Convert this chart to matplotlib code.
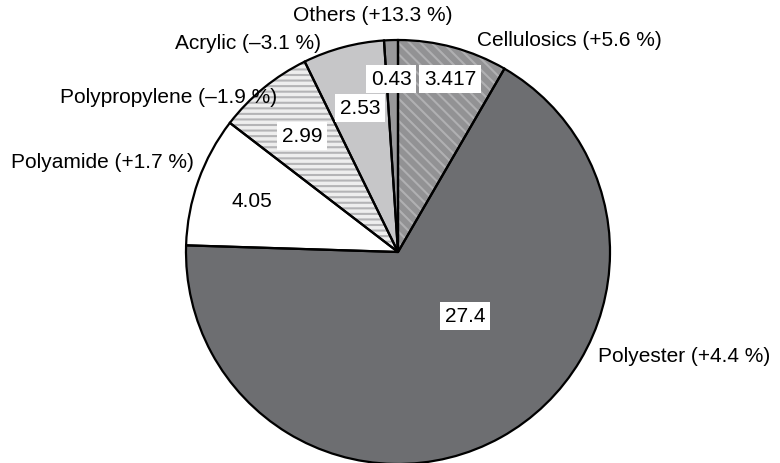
import numpy as np
import matplotlib.pyplot as plt

plt.rcParams['font.family'] = ['Liberation Sans', 'DejaVu Sans']
plt.rcParams['hatch.linewidth'] = 1.5

# clockwise from the top
fibres = ["Cellulosics", "Polyester", "Polyamide", "Polypropylene", "Acrylic", "Others"]
values = [3.417, 27.4, 4.05, 2.99, 2.53, 0.43]
value_text = ["3.417", "27.4", "4.05", "2.99", "2.53", "0.43"]
growth = ["+5.6 %", "+4.4 %", "+1.7 %", "\u20131.9 %", "\u20133.1 %", "+13.3 %"]

face = ["#929294", "#6d6e71", "#ffffff", "#eeeeee", "#c6c6c8", "#98989a"]
hatch = ["\\\\\\", None, None, "---", None, None]
hatch_col = ["#b0b0b2", None, None, "#b4b4b6", None, None]

fig = plt.figure(figsize=(7.8, 4.63), dpi=100)
cx, cy, r = 398, 252, 212
ax = fig.add_axes([(cx - r) / 780, (463 - cy - r) / 463, 2 * r / 780, 2 * r / 463])

kw = dict(startangle=90, counterclock=False, radius=1, center=(0, 0), normalize=True)

# fill
w1, _ = ax.pie(values, colors=face, wedgeprops=dict(linewidth=0), **kw)
# hatches
w2, _ = ax.pie(values, colors=["none"] * 6, wedgeprops=dict(linewidth=0), **kw)
for w, h, hc in zip(w2, hatch, hatch_col):
    if h:
        w.set_hatch(h)
        w.set_edgecolor(hc)
    else:
        w.set_visible(False)
# outlines
w3, _ = ax.pie(values, colors=["none"] * 6,
               wedgeprops=dict(linewidth=1.6, edgecolor="black", facecolor="none"), **kw)
ax.set_xlim(-1, 1)
ax.set_ylim(-1, 1)
ax.axis("off")


def px(x, y):
    return (x - cx) / r, (cy - y) / r


# value boxes (pixel positions of box centres)
value_pos = [(450, 79), (465, 316), (252, 201), (302, 136), (360, 108), (391, 79)]
for t, (x, y) in zip(value_text, value_pos):
    ax.text(*px(x, y), t, ha="center", va="center", fontsize=15,
            bbox=dict(facecolor="white", edgecolor="none", pad=3.5))

# outer labels: (x, y, ha)
label_pos = [(477, 40, "left"), (598, 357, "left"), (194, 162, "right"),
             (277, 97, "right"), (321, 43, "right"), (373, 15, "center")]
for f, g, (x, y, ha) in zip(fibres, growth, label_pos):
    ax.text(*px(x, y), f"{f} ({g})", ha=ha, va="center", fontsize=15, clip_on=False)

fig.savefig("out.png", dpi=100)
